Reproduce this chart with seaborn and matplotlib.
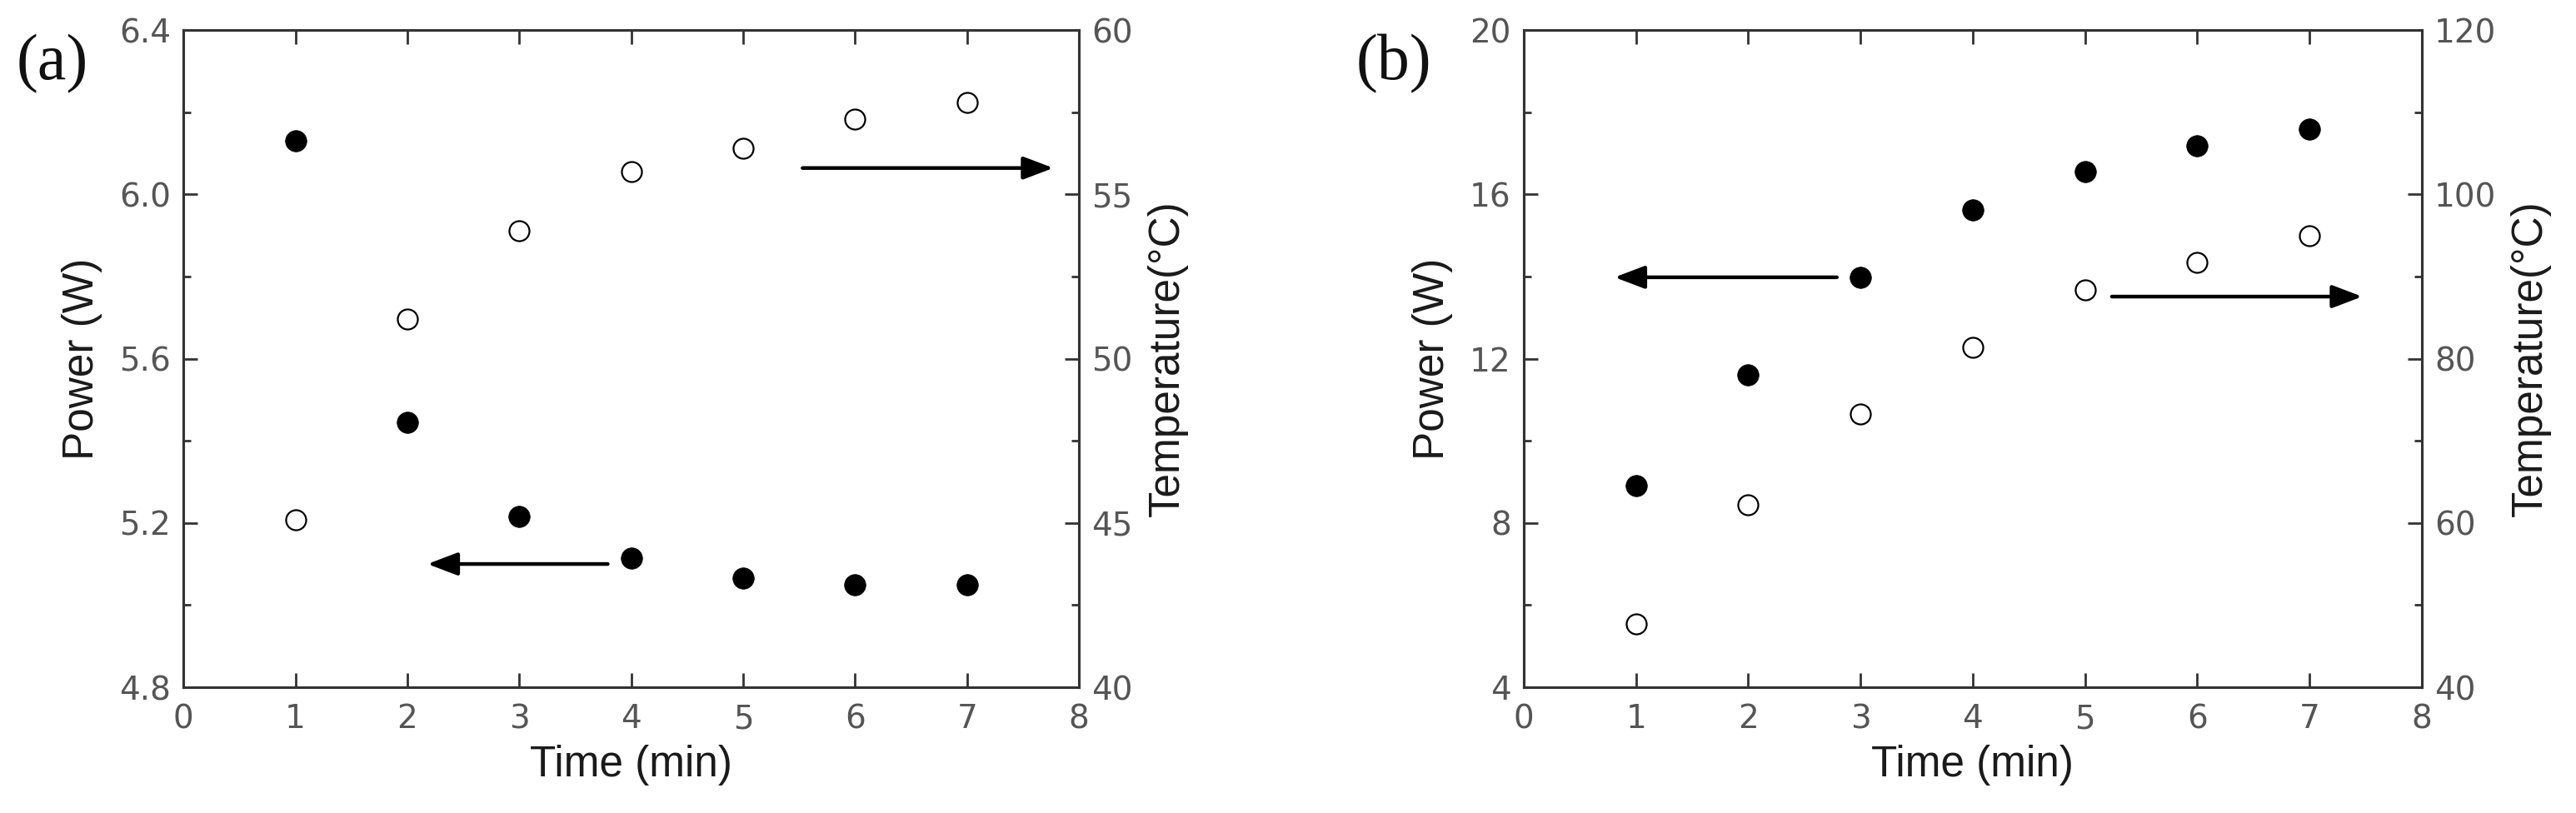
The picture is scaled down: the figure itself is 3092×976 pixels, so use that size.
import matplotlib
matplotlib.use("Agg")
import matplotlib.pyplot as plt
from matplotlib.ticker import AutoMinorLocator, FixedLocator
import seaborn as sns
import pandas as pd

# data
time_min = [1, 2, 3, 4, 5, 6, 7]

power_a = [6.13, 5.445, 5.215, 5.115, 5.065, 5.05, 5.05]
temp_a = [45.1, 51.2, 53.9, 55.7, 56.4, 57.3, 57.8]

power_b = [8.9, 11.6, 13.97, 15.63, 16.55, 17.19, 17.58]
temp_b = [47.7, 62.2, 73.3, 81.4, 88.4, 91.7, 95.0]

# axis setup per panel
x_ticks = [0, 1, 2, 3, 4, 5, 6, 7, 8]
power_ticks_a = [4.8, 5.2, 5.6, 6.0, 6.4]
temp_ticks_a = [40, 45, 50, 55, 60]
power_ticks_b = [4, 8, 12, 16, 20]
temp_ticks_b = [40, 60, 80, 100, 120]

# arrows: (axis, tail_x, tip_x, y)
arrows_a = [("power", 3.79, 2.18, 5.10), ("temp", 5.53, 7.77, 55.8)]
arrows_b = [("power", 2.79, 0.81, 13.98), ("temp", 5.24, 7.47, 87.55)]

sns.set_style("ticks")
# tick labels use the wide DejaVu digits, axis titles get Liberation Sans
plt.rcParams["font.family"] = ["DejaVu Sans"]

TICK_COL = "#555555"
SPINE_COL = "#333333"
LABEL_FONT = dict(fontsize=37, color="#1a1a1a",
                  family=["Liberation Sans", "DejaVu Sans"])


def style_axis(ax):
    for sp in ax.spines.values():
        sp.set_visible(True)
        sp.set_color(SPINE_COL)
        sp.set_linewidth(2.2)
    ax.tick_params(which="both", direction="in", colors=SPINE_COL,
                   labelcolor=TICK_COL, labelsize=28, width=2.0)
    ax.tick_params(which="major", length=12, pad=11)
    ax.tick_params(which="minor", length=6.5)


def draw_panel(ax, power, temp, pticks, tticks, tag, arrows):
    df = pd.DataFrame({"time": time_min, "power": power, "temp": temp})
    ax2 = ax.twinx()

    sns.scatterplot(data=df, x="time", y="power", ax=ax, marker="o", s=340,
                    color="black", edgecolor="black", linewidth=0.5,
                    legend=False, zorder=3)
    sns.scatterplot(data=df, x="time", y="temp", ax=ax2, marker="o", s=300,
                    facecolor="white", edgecolor="black", linewidth=1.6,
                    legend=False, zorder=3)

    ax.set_xlim(x_ticks[0], x_ticks[-1])
    ax.set_ylim(pticks[0], pticks[-1])
    ax2.set_ylim(tticks[0], tticks[-1])

    ax.xaxis.set_major_locator(FixedLocator(x_ticks))
    ax.yaxis.set_major_locator(FixedLocator(pticks))
    ax2.yaxis.set_major_locator(FixedLocator(tticks))
    ax.yaxis.set_minor_locator(AutoMinorLocator(2))
    ax2.yaxis.set_minor_locator(AutoMinorLocator(2))

    if pticks[1] - pticks[0] < 1:
        ax.set_yticklabels([f"{v:.1f}" for v in pticks])
    else:
        ax.set_yticklabels([f"{v:d}" for v in pticks])
    ax.set_xticklabels([str(v) for v in x_ticks])
    ax2.set_yticklabels([str(v) for v in tticks])

    style_axis(ax)
    style_axis(ax2)
    ax.tick_params(axis="x", top=True, pad=14)
    ax.tick_params(axis="y", which="both", right=False)
    ax2.tick_params(axis="y", which="both", left=False, right=True)

    ax.set_xlabel("Time (min)", labelpad=8, **LABEL_FONT)
    ax.set_ylabel("Power (W)", labelpad=14, **LABEL_FONT)
    ax2.set_ylabel("Temperature(\u00b0C)", labelpad=12, **LABEL_FONT)

    for which, tail, tip, y in arrows:
        target = ax if which == "power" else ax2
        target.annotate("", xy=(tip, y), xytext=(tail, y),
                        arrowprops=dict(arrowstyle="-|>,head_length=1.0,head_width=0.38",
                                        mutation_scale=22, lw=3.2, color="black",
                                        shrinkA=0, shrinkB=0), zorder=4)

    bb = ax.get_position()
    ax.figure.text(bb.x0 - 0.065, 0.958, tag, fontsize=56, va="top", ha="left",
                   family=["Liberation Serif", "DejaVu Serif"], color="#111111")


fig = plt.figure(figsize=(30.92, 9.76), dpi=100)
ax_a = fig.add_axes([0.0712, 0.1547, 0.3477, 0.8084])
ax_b = fig.add_axes([0.5915, 0.1547, 0.3486, 0.8084])

draw_panel(ax_a, power_a, temp_a, power_ticks_a, temp_ticks_a, "(a)", arrows_a)
draw_panel(ax_b, power_b, temp_b, power_ticks_b, temp_ticks_b, "(b)", arrows_b)

fig.savefig("out.png", dpi=100, facecolor="white")
